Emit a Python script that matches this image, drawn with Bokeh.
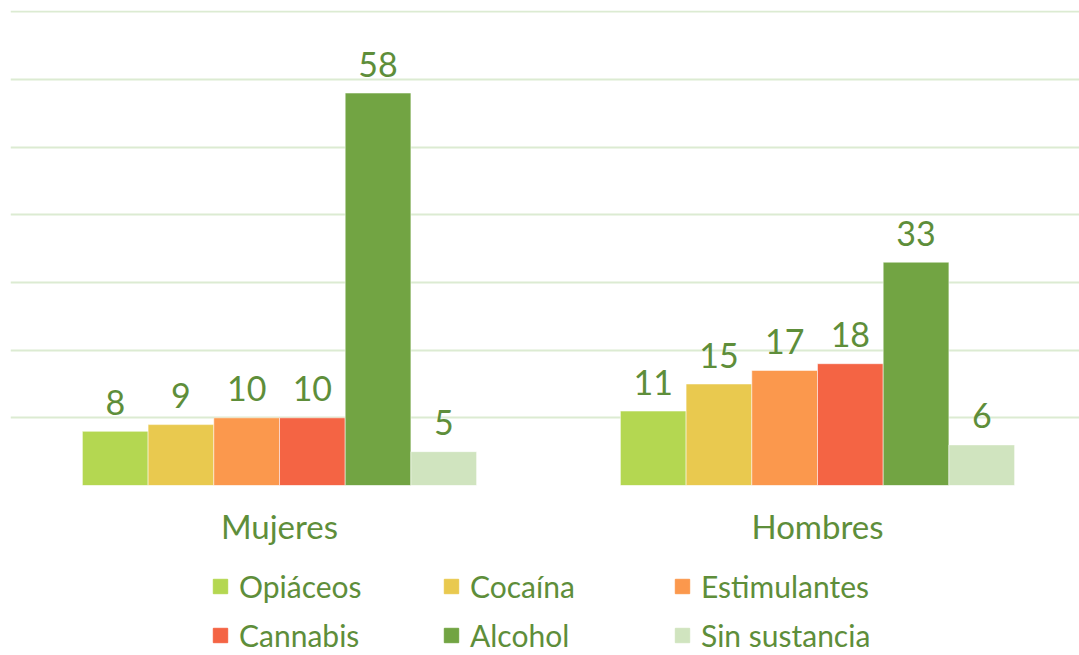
from bokeh.plotting import figure
from bokeh.models import Range1d, FixedTicker, Legend, LegendItem, ColumnDataSource
from bokeh.layouts import column
from bokeh.transform import dodge
from bokeh.core.properties import value
from bokeh.embed import file_html
from bokeh.resources import INLINE

groups = ["Mujeres", "Hombres"]
series = ["Opiáceos", "Cocaína", "Estimulantes", "Cannabis", "Alcohol", "Sin sustancia"]
mujeres = [8, 9, 10, 10, 58, 5]
hombres = [11, 15, 17, 18, 33, 6]
colors = ["#B4D751", "#E9C94F", "#FB984D", "#F46444", "#72A443", "#D0E4BF"]
grid_ticks = [0, 10, 20, 30, 40, 50, 60, 70]

FONT = "Lato"
TXT = "#5E8E3A"

p = figure(width=1079, height=555, output_backend="svg", toolbar_location=None,
           x_range=Range1d(-0.5, -0.5 + 1069 / 538), y_range=Range1d(0, 70.2),
           min_border_left=10, min_border_right=0, min_border_top=10, min_border_bottom=70)
p.outline_line_color = None
p.background_fill_color = "white"
p.border_fill_color = "white"

p.yaxis.visible = False
p.ygrid.ticker = FixedTicker(ticks=grid_ticks)
p.ygrid.grid_line_color = "#DCEBD2"
p.ygrid.grid_line_width = 2
p.xgrid.visible = False

p.xaxis.ticker = FixedTicker(ticks=list(range(len(groups))))
p.xaxis.major_label_overrides = {i: g for i, g in enumerate(groups)}
p.xaxis.axis_line_color = None
p.xaxis.major_tick_line_color = None
p.xaxis.minor_tick_line_color = None
p.xaxis.major_label_text_font = FONT
p.xaxis.major_label_text_font_size = "33px"
p.xaxis.major_label_text_color = TXT
p.xaxis.major_label_standoff = 14

bw = 65.7 / 538
for i, (name, col) in enumerate(zip(series, colors)):
    src = ColumnDataSource(dict(x=list(range(len(groups))), top=[mujeres[i], hombres[i]],
                                lab=[str(mujeres[i]), str(hombres[i])]))
    off = (i - 2.5) * bw
    p.vbar(x=dodge("x", off, range=p.x_range), top="top", width=bw, bottom=0, source=src,
           fill_color=col, line_color="white", line_width=1, line_alpha=0.5)
    p.text(x=dodge("x", off, range=p.x_range), y="top", text="lab", source=src,
           text_align="center", text_baseline="alphabetic", y_offset=-29,
           text_font=value(FONT), text_font_size="34px", text_color=TXT)

# legend strip below the chart
lg = figure(width=1079, height=100, output_backend="svg", toolbar_location=None,
            x_range=Range1d(0, 1), y_range=Range1d(0, 1),
            min_border_left=0, min_border_right=0, min_border_top=0, min_border_bottom=0)
lg.axis.visible = False
lg.grid.visible = False
lg.outline_line_color = None
lg.border_fill_color = "white"
lg.background_fill_color = "white"
items = []
for name, col in zip(series, colors):
    r = lg.vbar(x=[5], top=[1], width=0.1, fill_color=col, line_color=col)
    items.append(LegendItem(label=name, renderers=[r]))

common = dict(orientation="horizontal", border_line_color=None, background_fill_alpha=0,
              label_text_font=FONT, label_text_font_size="30px", label_text_color=TXT,
              glyph_width=18, glyph_height=18, label_standoff=10, label_width=193,
              label_height=30, spacing=10, margin=0, padding=0)
lg.add_layout(Legend(items=items[:3], location=(201, 51), **common), "center")
lg.add_layout(Legend(items=items[3:], location=(201, 2), **common), "center")

layout = column(p, lg, spacing=0)
open("out.html", "w").write(file_html(layout, INLINE))
